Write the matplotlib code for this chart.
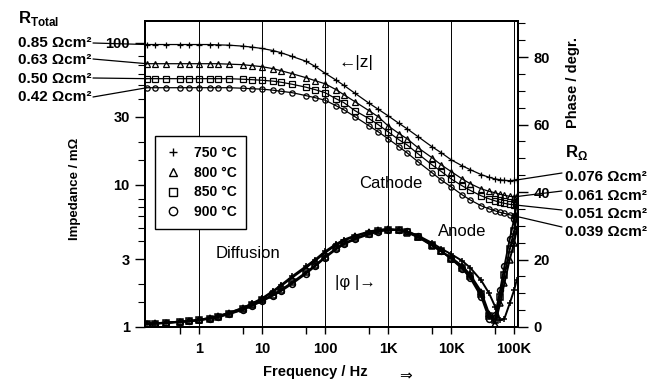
import matplotlib
matplotlib.use("Agg")
import matplotlib.pyplot as plt
from matplotlib.lines import Line2D
from matplotlib.ticker import FixedLocator, FixedFormatter, NullFormatter

plt.rcParams["font.family"] = ["Liberation Sans", "DejaVu Sans"]
plt.rcParams["mathtext.fontset"] = "custom"
plt.rcParams["mathtext.rm"] = "Liberation Sans"
plt.rcParams["mathtext.bf"] = "Liberation Sans:bold"

# measurement frequencies (Hz)
freq = [0.15, 0.2, 0.3, 0.5, 0.7, 1, 1.5, 2, 3, 5, 7, 10, 15, 20, 30, 50, 70,
        100, 150, 200, 300, 500, 700, 1e3, 1.5e3, 2e3, 3e3, 5e3, 7e3, 1e4,
        1.5e4, 2e4, 3e4, 4e4, 5e4, 6e4, 7e4, 8.5e4, 1e5, 1.1e5]

temps = ["750 °C", "800 °C", "850 °C", "900 °C"]
markers = ["+", "^", "s", "o"]

# |Z| in mOhm
z_750 = [97, 97, 97, 97, 97, 97, 97, 96.5, 96, 94.5, 93, 91, 88, 85, 80, 74, 68,
         61, 54.5, 50, 44, 37.5, 34, 30.6, 27, 24.8, 21.8, 18.5, 16.8, 15.0,
         13.6, 12.8, 11.8, 11.3, 11.0, 10.85, 10.75, 10.7, 10.75, 10.9]
z_800 = [71.1, 71.1, 71.1, 71.1, 71.1, 71.1, 71.1, 71.1, 70.6, 70.0, 68.9, 67.8,
         65.6, 63.5, 60.5, 56.7, 54.0, 51.4, 46.7, 43.0, 38.4, 33.2, 30.1, 26.0,
         22.9, 21.1, 18.2, 15.5, 13.8, 12.4, 11.0, 10.2, 9.37, 9.0, 8.79, 8.57,
         8.44, 8.30, 8.23, 8.30]
z_850 = [55.8, 55.8, 55.8, 55.8, 55.8, 55.8, 55.8, 55.8, 55.8, 55.3, 54.9, 54.4,
         53.6, 52.7, 51.0, 48.6, 46.7, 44.5, 40.3, 37.8, 33.2, 29.2, 26.5, 23.6,
         20.7, 19.1, 16.5, 13.8, 12.4, 11.0, 9.84, 9.15, 8.37, 7.97, 7.71, 7.53,
         7.41, 7.29, 7.23, 7.29]
z_900 = [48.2, 48.2, 48.2, 48.2, 48.2, 48.2, 48.2, 48.2, 48.2, 47.8, 47.4, 47.1,
         46.3, 45.5, 44.5, 42.4, 41.0, 39.4, 36.0, 33.7, 30.1, 26.0, 23.6, 21.1,
         18.5, 16.8, 14.5, 12.15, 10.8, 9.68, 8.5, 7.84, 7.12, 6.78, 6.56, 6.40,
         6.30, 6.15, 6.05, 6.10]

# |phase| in degrees
ph_750 = [1.0, 1.1, 1.3, 1.6, 1.8, 2.1, 2.7, 3.2, 4.2, 5.7, 7.0, 8.5, 10.7, 12.4,
          15.0, 18.0, 20.0, 22.4, 24.6, 25.9, 27.1, 28.3, 28.8, 29.0, 28.8, 28.3,
          27.1, 24.9, 23.2, 21.6, 19.6, 17.6, 13.8, 10.0, 6.0, 2.0, 2.5, 7.0,
          11.0, 14.0]
ph_800 = [1.0, 1.1, 1.3, 1.6, 1.8, 2.1, 2.7, 3.2, 4.2, 5.6, 6.9, 8.3, 10.4, 12.1,
          14.6, 17.6, 19.6, 22.0, 24.3, 25.6, 26.9, 28.1, 28.7, 29.0, 28.7, 28.0,
          26.6, 24.1, 22.4, 20.6, 18.1, 15.6, 10.5, 4.0, 1.0, 7.0, 13.0, 20.0,
          25.0, 29.0]
ph_850 = [0.9, 1.0, 1.2, 1.5, 1.7, 2.0, 2.5, 3.0, 3.9, 5.3, 6.5, 7.9, 9.6, 11.0,
          13.2, 16.2, 18.3, 20.8, 23.3, 24.8, 26.3, 27.7, 28.4, 28.8, 28.7, 28.2,
          26.8, 24.2, 22.4, 20.3, 17.6, 15.0, 9.8, 3.2, 2.0, 9.0, 15.5, 23.0,
          28.5, 32.5]
ph_900 = [0.9, 1.0, 1.2, 1.5, 1.7, 2.0, 2.5, 2.9, 3.8, 5.1, 6.3, 7.6, 9.3, 10.6,
          12.8, 15.8, 18.0, 20.5, 23.0, 24.5, 26.0, 27.5, 28.3, 28.8, 28.8, 28.4,
          27.0, 24.4, 22.5, 20.2, 17.3, 14.6, 9.0, 2.5, 3.5, 11.0, 18.0, 26.0,
          32.0, 36.5]

r_total = ["0.85", "0.63", "0.50", "0.42"]
r_ohm = ["0.076", "0.061", "0.051", "0.039"]

impedance = [z_750, z_800, z_850, z_900]
phase = [ph_750, ph_800, ph_850, ph_900]

W, H = 656, 383


def px(x, y):
    # image pixel (origin top-left) -> figure pixels
    return (x, H - y)


def frac(x, y):
    return (x / W, 1 - y / H)


fig = plt.figure(figsize=(W / 100, H / 100), dpi=100)
ax = fig.add_axes([145 / W, 1 - 327 / H, 373 / W, 306 / H])
ax2 = ax.twinx()

for z, m in zip(impedance, markers):
    ax.plot(freq, z, marker=m, color="black", lw=0.9, markersize=3.8,
            markeredgewidth=0.9, markerfacecolor="none")
for p, m in zip(phase, markers):
    ax2.plot(freq, p, marker=m, color="black", lw=1.4, markersize=4.2,
             markeredgewidth=1.1, markerfacecolor="none")

ax.set_xscale("log")
ax.set_yscale("log")
ax.set_xlim(0.14, 1.15e5)
ax.set_ylim(1, 142)
ax2.set_ylim(0, 90.7)

ax.xaxis.set_major_locator(FixedLocator([1, 10, 100, 1e3, 1e4, 1e5]))
ax.xaxis.set_major_formatter(FixedFormatter(["1", "10", "100", "1K", "10K", "100K"]))
ax.xaxis.set_minor_locator(FixedLocator([0.5, 5, 50, 500, 5e3, 5e4]))
ax.xaxis.set_minor_formatter(NullFormatter())
ax.grid(True, which="major", axis="x", color="black", lw=0.7)

ax.yaxis.set_major_locator(FixedLocator([1, 3, 10, 30, 100]))
ax.yaxis.set_major_formatter(FixedFormatter(["1", "3", "10", "30", "100"]))
ax.yaxis.set_minor_locator(FixedLocator([1.5, 2, 4, 5, 6, 7, 8, 15, 20, 40,
                                         50, 60, 70, 80]))
ax.yaxis.set_minor_formatter(NullFormatter())

ax2.yaxis.set_major_locator(FixedLocator([0, 20, 40, 60, 80]))
ax2.yaxis.set_minor_locator(FixedLocator([5, 10, 15, 25, 30, 35, 45, 50, 55,
                                          65, 70, 75, 85, 90]))

ax.tick_params(axis="x", which="both", direction="out", length=5, width=1,
               top=False, labelsize=10.5, pad=6)
ax.tick_params(axis="y", which="major", direction="out", length=7, width=1,
               labelsize=10.5, pad=4)
ax.tick_params(axis="y", which="minor", direction="out", length=5, width=0.8)
ax2.tick_params(axis="y", which="major", direction="out", length=7, width=1,
                labelsize=10.5, pad=4)
ax2.tick_params(axis="y", which="minor", direction="out", length=5, width=0.8)
for lab in ax.get_xticklabels() + ax.get_yticklabels() + ax2.get_yticklabels():
    lab.set_fontweight("bold")
for a in (ax, ax2):
    for s in a.spines.values():
        s.set_linewidth(1.4)

handles = [Line2D([], [], marker=m, linestyle="None", color="black",
                  markerfacecolor="none", markersize=6, markeredgewidth=1)
           for m in markers]
leg = ax2.legend(handles, temps, loc="upper left", bbox_to_anchor=(0.027, 0.624),
                 borderaxespad=0, frameon=True, fancybox=False, framealpha=1,
                 edgecolor="black", prop=dict(weight="bold", size=10),
                 handlelength=1.2, handletextpad=0.9, labelspacing=0.42,
                 borderpad=0.7)
leg.get_frame().set_linewidth(1.0)

# axis titles
fig.text(*frac(75, 189), "Impedance / mΩ", rotation=90, ha="center",
         va="center", fontsize=9.5, fontweight="bold")
fig.text(*frac(573, 82), "Phase / degr.", rotation=90, ha="center",
         va="center", fontsize=10.5, fontweight="bold")
fig.text(*frac(315, 372), "Frequency / Hz", ha="center", va="center",
         fontsize=10.5, fontweight="bold")
fig.text(*frac(405, 376), "⇒", ha="center", va="center", fontsize=11,
         family="DejaVu Sans")

# in-plot labels
fig.text(*frac(356, 63), "←|z|", ha="center", va="center", fontsize=12.5)
fig.text(*frac(391, 184), "Cathode", ha="center", va="center", fontsize=12)
fig.text(*frac(248, 253), "Diffusion", ha="center", va="center", fontsize=12)
fig.text(*frac(462, 232), "Anode", ha="center", va="center", fontsize=12)
fig.text(*frac(355, 283), "|φ |→", ha="center", va="center", fontsize=12)

# resistance labels with leader lines
fig.text(*frac(18, 18), r"$\mathbf{R}_{\mathbf{Total}}$", ha="left",
         va="center", fontsize=12)
left_y = [43, 60, 79, 97]
left_end = [43, 59, 78, 97]
for lab, ty, ly, z in zip(r_total, left_y, left_end, impedance):
    fig.text(*frac(18, ty), f"{lab} Ωcm²", ha="left", va="center",
             fontsize=11, fontweight="bold")
    ax.annotate("", xy=(freq[0], z[0]), xycoords="data",
                xytext=px(93, ly), textcoords="figure pixels",
                arrowprops=dict(arrowstyle="-", lw=0.9, color="black",
                                shrinkA=0, shrinkB=0),
                annotation_clip=False)

fig.text(*frac(565, 153), r"$\mathbf{R}_{\mathbf{\Omega}}$", ha="left",
         va="center", fontsize=12)
right_y = [177, 196, 214, 232]
right_start = [173, 191, 210, 227]
i100k = freq.index(1e5)
for lab, ty, ly, z in zip(r_ohm, right_y, right_start, impedance):
    fig.text(*frac(565, ty), f"{lab} Ωcm²", ha="left", va="center",
             fontsize=11, fontweight="bold")
    ax.annotate("", xy=(freq[i100k], z[i100k]), xycoords="data",
                xytext=px(562, ly), textcoords="figure pixels",
                arrowprops=dict(arrowstyle="-", lw=0.9, color="black",
                                shrinkA=0, shrinkB=0),
                annotation_clip=False)

fig.savefig("out.png", dpi=100)
